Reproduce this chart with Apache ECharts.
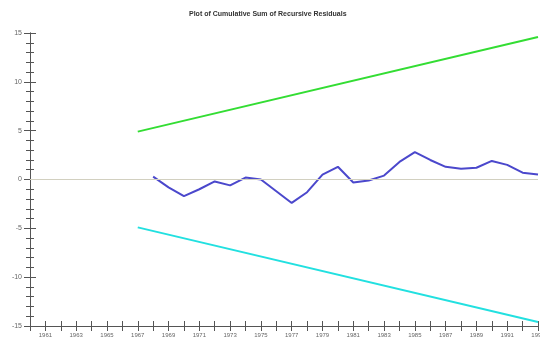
<!DOCTYPE html>
<html>
<head>
<meta charset="utf-8">
<script src="https://cdn.jsdelivr.net/npm/echarts@6/dist/echarts.min.js"></script>
<style>html,body{margin:0;padding:0;background:#fff;}#c{width:540px;height:342px;}</style>
</head>
<body>
<div id="c"></div>
<script>
const titleText = 'Plot of Cumulative Sum of Recursive Residuals';
const cusumYears = [1968,1969,1970,1971,1972,1973,1974,1975,1976,1977,1978,1979,1980,1981,1982,1983,1984,1985,1986,1987,1988,1989,1990,1991,1992,1993];
const cusumValues = [0.3,-0.8,-1.7,-1.0,-0.2,-0.6,0.2,0.0,-1.2,-2.4,-1.3,0.5,1.3,-0.3,-0.1,0.4,1.8,2.8,2.0,1.3,1.1,1.2,1.9,1.5,0.7,0.5];
const boundYears = [1967, 1993];
const upperBound = [4.9, 14.6];
const lowerBound = [-4.9, -14.6];
const yTickLabels = [15, 10, 5, 0, -5, -10, -15];

const pairs = (xs, ys) => xs.map((x, i) => [x, ys[i]]);
const axisCol = '#555';
const baseX = {
  type: 'value', min: 1960, max: 1993, interval: 1, position: 'bottom',
  axisLine: { show: true, onZero: false, lineStyle: { color: axisCol, width: 1 } },
  splitLine: { show: false }
};
const baseY = {
  type: 'value', min: -15, max: 15, interval: 5, position: 'left',
  axisLine: { show: true, onZero: false, lineStyle: { color: axisCol, width: 1 } },
  splitLine: { show: false }
};
const chart = echarts.init(document.getElementById('c'), null, { renderer: 'canvas' });
chart.setOption({
  animation: false,
  backgroundColor: '#fff',
  title: {
    text: titleText, left: 184, top: 6,
    textStyle: { fontSize: 7, fontWeight: 'bold', color: '#333', fontFamily: 'Liberation Sans' }
  },
  grid: { left: 30, right: 2, top: 33, bottom: 16, containLabel: false, outerBoundsMode: 'none' },
  xAxis: [
    Object.assign({}, baseX, {
      axisTick: { show: true, inside: false, length: 5, lineStyle: { color: axisCol } },
      axisLabel: {
        show: true, margin: 6, fontSize: 6, color: '#666', fontFamily: 'Liberation Sans',
        formatter: v => (v % 2 === 1 ? String(v) : '')
      }
    }),
    Object.assign({}, baseX, {
      axisTick: { show: true, inside: true, length: 5, lineStyle: { color: axisCol } },
      axisLabel: { show: false }
    })
  ],
  yAxis: [
    Object.assign({}, baseY, {
      axisTick: { show: true, inside: false, length: 6, lineStyle: { color: axisCol } },
      minorTick: { show: true, splitNumber: 5, length: 4, lineStyle: { color: axisCol } },
      axisLabel: {
        show: true, margin: 8, fontSize: 7, color: '#666', fontFamily: 'Liberation Sans',
        formatter: v => (yTickLabels.indexOf(v) >= 0 ? String(v) : '')
      }
    }),
    Object.assign({}, baseY, {
      axisTick: { show: true, inside: true, length: 6, lineStyle: { color: axisCol } },
      minorTick: { show: true, splitNumber: 5, length: 4, lineStyle: { color: axisCol } },
      axisLabel: { show: false }
    })
  ],
  series: [
    {
      type: 'line', data: pairs(boundYears, upperBound), showSymbol: false,
      lineStyle: { color: '#33dd33', width: 2 }, silent: true,
      markLine: {
        silent: true, symbol: ['none', 'none'], label: { show: false },
        lineStyle: { color: '#d2d0c0', width: 1, type: 'solid' },
        data: [{ yAxis: 0 }]
      }
    },
    {
      type: 'line', data: pairs(boundYears, lowerBound), showSymbol: false,
      lineStyle: { color: '#22e0e0', width: 2 }, silent: true
    },
    {
      type: 'line', data: pairs(cusumYears, cusumValues), showSymbol: false,
      lineStyle: { color: '#4b48cc', width: 2 }, silent: true
    }
  ]
});
</script>
</body>
</html>
